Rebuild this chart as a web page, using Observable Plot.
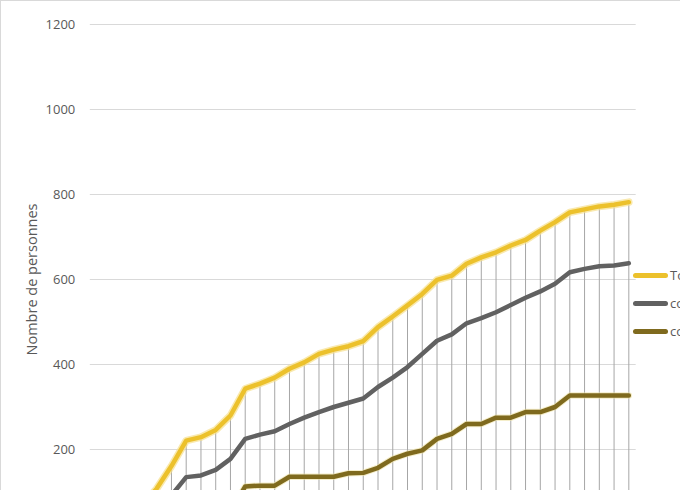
<!DOCTYPE html>
<html>
<head>
<meta charset="utf-8">
<script src="https://cdn.jsdelivr.net/npm/d3@7"></script>
<script src="https://cdn.jsdelivr.net/npm/@observablehq/plot@0.6"></script>
<style>
  html, body { margin: 0; padding: 0; overflow: hidden; background: #fff; }
  #wrap { position: relative; width: 680px; height: 490px; overflow: hidden; font-family: "Open Sans", sans-serif; }
  #frame { position: absolute; left: 0; top: 0; width: 700px; height: 700px; border-left: 1px solid #d9d9d9; border-top: 1px solid #d9d9d9; box-sizing: border-box; pointer-events: none; }
  #legend { position: absolute; left: 633px; top: 261px; }
  .item { display: flex; align-items: center; height: 28px; white-space: nowrap; }
  .sw { width: 35px; height: 5px; border-radius: 3px; margin-right: 2px; }
  .lb { font-size: 13px; color: #595959; }
</style>
</head>
<body>
<div id="wrap">
  <div id="chart"></div>
  <div id="legend"></div>
  <div id="frame"></div>
</div>
<script>
// Categories (day index; the axis labels are outside the visible crop)
const days = [1,2,3,4,5,6,7,8,9,10,11,12,13,14,15,16,17,18,19,20,21,22,23,24,25,26,27,28,29,30,31,32,33,34,35,36,37];
const total = [3, 12, 35, 68, 108, 161, 221, 229, 246, 280, 343, 355, 369, 390, 405, 425, 435, 443, 455, 488, 513, 539, 566, 599, 609, 637, 652, 664, 680, 693, 715, 735, 758, 765, 772, 776, 782];
const serie2 = [1, 6, 18, 38, 62, 92, 135, 139, 152, 178, 225, 235, 243, 260, 275, 288, 300, 310, 320, 347, 369, 394, 425, 456, 471, 497, 509, 523, 540, 557, 572, 590, 617, 625, 631, 633, 638];
const serie3 = [0, 0, 1, 3, 8, 15, 25, 35, 45, 55, 113, 115, 115, 136, 136, 136, 136, 144, 145, 157, 178, 190, 198, 225, 237, 260, 260, 275, 275, 288, 288, 300, 327, 327, 327, 327, 327];
const yTicks = [0, 200, 400, 600, 800, 1000, 1200];
const seriesNames = ["Total", "confirmés", "contaminés"];
const colors = ["#ecc12c", "#616161", "#7f6a1e"];

const rows = days.map((d, i) => ({day: d, total: total[i], s2: serie2[i], s3: serie3[i]}));

const chart = Plot.plot({
  width: 680,
  height: 600,
  marginLeft: 89.8,
  marginRight: 44.3,
  marginTop: 24,
  marginBottom: 66,
  style: {fontFamily: "Open Sans, sans-serif", background: "#fff"},
  x: {type: "point", domain: days, padding: 0.5, round: false, axis: null},
  y: {domain: [0, 1200], axis: null},
  marks: [
    Plot.ruleY(yTicks, {stroke: "#d9d9d9", strokeWidth: 1}),
    Plot.ruleX(rows, {x: "day", y1: 0, y2: "total", stroke: "#a6a6a6", strokeWidth: 1}),
    Plot.axisY({ticks: yTicks, tickSize: 0, tickPadding: 15, fontSize: 13, fill: "#595959", label: null, tickFormat: d => String(d)}),
    Plot.text(["Nombre de personnes"], {frameAnchor: "left", textAnchor: "middle", lineAnchor: "middle", rotate: -90, dx: -58.3, fontSize: 14.5, fill: "#595959"}),
    // soft halos
    Plot.line(rows, {x: "day", y: "total", stroke: "#f6df8c", strokeWidth: 7.5, strokeOpacity: 0.7, strokeLinejoin: "round", strokeLinecap: "round"}),
    Plot.line(rows, {x: "day", y: "s3", stroke: "#efe2a6", strokeWidth: 6.5, strokeOpacity: 0.6, strokeLinejoin: "round", strokeLinecap: "round"}),
    Plot.line(rows, {x: "day", y: "total", stroke: colors[0], strokeWidth: 4.5, strokeLinejoin: "round", strokeLinecap: "round"}),
    Plot.line(rows, {x: "day", y: "s2", stroke: colors[1], strokeWidth: 4.5, strokeLinejoin: "round", strokeLinecap: "round"}),
    Plot.line(rows, {x: "day", y: "s3", stroke: colors[2], strokeWidth: 4.5, strokeLinejoin: "round", strokeLinecap: "round"})
  ]
});
document.getElementById("chart").appendChild(chart);

const legend = document.getElementById("legend");
seriesNames.forEach((name, i) => {
  const item = document.createElement("div");
  item.className = "item";
  const sw = document.createElement("div");
  sw.className = "sw";
  sw.style.background = colors[i];
  const lb = document.createElement("span");
  lb.className = "lb";
  lb.textContent = name;
  item.appendChild(sw);
  item.appendChild(lb);
  legend.appendChild(item);
});
</script>
</body>
</html>
